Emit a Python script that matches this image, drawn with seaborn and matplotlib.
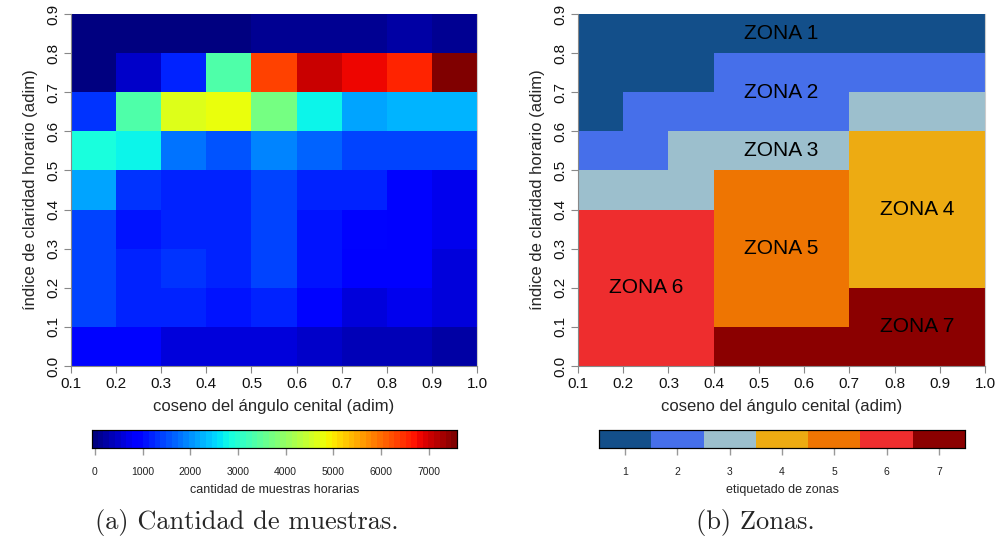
import numpy as np
import pandas as pd
import matplotlib
matplotlib.use("Agg")
import matplotlib.pyplot as plt
from matplotlib.colors import ListedColormap
import seaborn as sns

# ---- data ----
cos_labels = ["0.1", "0.2", "0.3", "0.4", "0.5", "0.6", "0.7", "0.8", "0.9", "1.0"]
kt_labels = ["0.0", "0.1", "0.2", "0.3", "0.4", "0.5", "0.6", "0.7", "0.8", "0.9"]

# sample counts, rows from kt 0.0-0.1 (bottom) to 0.8-0.9 (top)
counts_r0 = [900, 900, 620, 600, 580, 500, 400, 400, 250]
counts_r1 = [1450, 1250, 1250, 1100, 1250, 900, 640, 720, 620]
counts_r2 = [1450, 1200, 1330, 1200, 1450, 1100, 850, 800, 540]
counts_r3 = [1450, 1050, 1250, 1250, 1420, 1100, 900, 800, 720]
counts_r4 = [2150, 1330, 1250, 1250, 1420, 1250, 1180, 1000, 720]
counts_r5 = [2850, 2750, 1790, 1580, 1900, 1650, 1450, 1440, 1420]
counts_r6 = [1330, 3300, 4610, 4730, 3700, 2700, 2150, 2280, 2310]
counts_r7 = [50, 500, 1200, 3300, 6300, 7100, 6770, 6600, 7550]
counts_r8 = [20, 20, 20, 30, 80, 90, 90, 180, 170]

# zone labels, same layout
zones_r0 = [6, 6, 6, 7, 7, 7, 7, 7, 7]
zones_r1 = [6, 6, 6, 5, 5, 5, 7, 7, 7]
zones_r2 = [6, 6, 6, 5, 5, 5, 4, 4, 4]
zones_r3 = [6, 6, 6, 5, 5, 5, 4, 4, 4]
zones_r4 = [3, 3, 3, 5, 5, 5, 4, 4, 4]
zones_r5 = [2, 2, 3, 3, 3, 3, 4, 4, 4]
zones_r6 = [1, 2, 2, 2, 2, 2, 3, 3, 3]
zones_r7 = [1, 1, 1, 2, 2, 2, 2, 2, 2]
zones_r8 = [1, 1, 1, 1, 1, 1, 1, 1, 1]

zone_ticks = [1, 2, 3, 4, 5, 6, 7]
zone_colors = ["#134f8a", "#466fea", "#9cbfcd", "#edab12", "#ee7502", "#ee2d2e", "#8b0000"]
zone_text = ["ZONA 1", "ZONA 2", "ZONA 3", "ZONA 4", "ZONA 5", "ZONA 6", "ZONA 7"]
zone_text_x = [0.55, 0.55, 0.55, 0.85, 0.55, 0.25, 0.85]
zone_text_y = [0.85, 0.70, 0.55, 0.40, 0.30, 0.20, 0.10]

count_ticks = [0, 1000, 2000, 3000, 4000, 5000, 6000, 7000]

counts = pd.DataFrame([counts_r0, counts_r1, counts_r2, counts_r3, counts_r4,
                       counts_r5, counts_r6, counts_r7, counts_r8])
zones = pd.DataFrame([zones_r0, zones_r1, zones_r2, zones_r3, zones_r4,
                      zones_r5, zones_r6, zones_r7, zones_r8])

# ---- style ----
sns.set_style("white")
plt.rcParams["font.family"] = ["Liberation Sans", "DejaVu Sans"]

W, H = 1000, 542
fig = plt.figure(figsize=(W / 100, H / 100), dpi=100)

def box(x0, y0, x1, y1):
    return [x0 / W, 1 - y1 / H, (x1 - x0) / W, (y1 - y0) / H]

ax1 = fig.add_axes(box(71, 14, 477, 366))
ax2 = fig.add_axes(box(578, 14, 985, 366))
cax1 = fig.add_axes(box(92, 430, 457, 448))
cax2 = fig.add_axes(box(599, 430, 965, 448))

jet64 = plt.get_cmap("jet", 64)
sns.heatmap(counts, ax=ax1, cmap=jet64, vmin=-60, vmax=7590, cbar_ax=cax1,
            cbar_kws={"orientation": "horizontal", "ticks": count_ticks})
zcmap = ListedColormap(zone_colors)
sns.heatmap(zones, ax=ax2, cmap=zcmap, vmin=0.5, vmax=7.5, cbar_ax=cax2,
            cbar_kws={"orientation": "horizontal", "ticks": zone_ticks})

tick_gray = "#888888"
for ax in (ax1, ax2):
    ax.set_ylim(0, 9)
    ax.set_xlim(0, 9)
    ax.set_xticks(np.arange(10))
    ax.set_xticklabels(cos_labels, rotation=0, fontsize=11)
    ax.set_yticks(np.arange(10))
    ax.set_yticklabels(kt_labels, rotation=90, va="center", fontsize=11)
    ax.tick_params(axis="both", direction="out", length=5, width=0.8,
                   color=tick_gray, pad=3, labelcolor="#111111")
    ax.tick_params(axis="x", bottom=True, left=False)
    ax.tick_params(axis="y", left=True)
    for s in ("left", "bottom", "right"):
        ax.spines[s].set_visible(True)
        ax.spines[s].set_color(tick_gray if s != "right" else "#cccccc")
        ax.spines[s].set_linewidth(0.8)
    ax.set_xlabel("coseno del ángulo cenital (adim)", fontsize=12, labelpad=6)
    ax.set_ylabel("índice de claridad horario (adim)", fontsize=12, labelpad=6)

# zone labels placed in data coords (cell units)
for t, x, y in zip(zone_text, zone_text_x, zone_text_y):
    ax2.text((x - 0.1) * 10, y * 10, t, ha="center", va="center",
             fontsize=15, color="black")

for cax, label in ((cax1, "cantidad de muestras horarias"), (cax2, "etiquetado de zonas")):
    cax.tick_params(axis="x", direction="out", length=5, width=1, color="#999999",
                    labelsize=7.5, pad=9, labelcolor="#222222")
    for s in cax.spines.values():
        s.set_visible(True)
        s.set_color("black")
        s.set_linewidth(0.8)
    cax.set_xlabel(label, fontsize=9, labelpad=5)

fig.text(247 / W, 1 - 522 / H, "(a) Cantidad de muestras.", ha="center", va="center",
         fontsize=19, family="cmr10")
fig.text(755 / W, 1 - 522 / H, "(b) Zonas.", ha="center", va="center",
         fontsize=19, family="cmr10")

fig.savefig("out.png", dpi=100)
